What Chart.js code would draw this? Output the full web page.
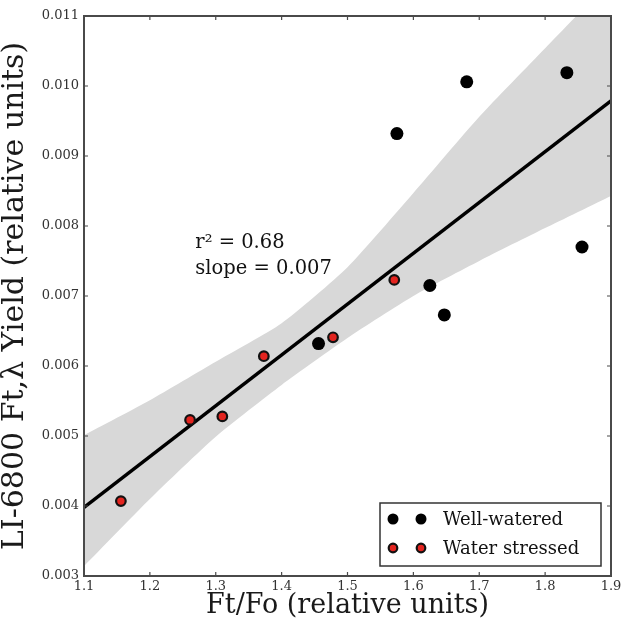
<!DOCTYPE html>
<html>
<head>
<meta charset="utf-8">
<script src="https://cdn.jsdelivr.net/npm/chart.js@4/dist/chart.umd.min.js"></script>
<style>
  html, body { margin: 0; padding: 0; background: #fff; }
  #wrap { width: 622px; height: 621px; position: relative; }
</style>
</head>
<body>
<div id="wrap"><canvas id="chart"></canvas></div>
<script>
// Axis ticks
const xTickValues = [1.1, 1.2, 1.3, 1.4, 1.5, 1.6, 1.7, 1.8, 1.9];
const yTickValues = [0.003, 0.004, 0.005, 0.006, 0.007, 0.008, 0.009, 0.010, 0.011];

// Well-watered plants
const wellWateredX = [1.456, 1.575, 1.625, 1.647, 1.681, 1.833, 1.856];
const wellWateredY = [0.00632, 0.00932, 0.00715, 0.00673, 0.01006, 0.01019, 0.00770];

// Water-stressed plants
const stressedX = [1.156, 1.261, 1.310, 1.373, 1.478, 1.571];
const stressedY = [0.00407, 0.00523, 0.00528, 0.00614, 0.00641, 0.00723];

// 95% confidence band around the fit
const bandX     = [1.1, 1.2, 1.3, 1.4, 1.5, 1.6, 1.7, 1.8, 1.9];
const bandLower = [0.00314, 0.00410, 0.00499, 0.00573, 0.00640, 0.00700, 0.00750, 0.00797, 0.00843];
const bandUpper = [0.00501, 0.00551, 0.00606, 0.00661, 0.00741, 0.00847, 0.00956, 0.01054, 0.01151];

const FONT = "'DejaVu Serif', serif";

// Ordinary least squares over all plants
const allX = wellWateredX.concat(stressedX);
const allY = wellWateredY.concat(stressedY);
const n = allX.length;
const mx = allX.reduce((a, b) => a + b, 0) / n;
const my = allY.reduce((a, b) => a + b, 0) / n;
let sxy = 0, sxx = 0, syy = 0;
for (let i = 0; i < n; i++) {
  sxy += (allX[i] - mx) * (allY[i] - my);
  sxx += (allX[i] - mx) ** 2;
  syy += (allY[i] - my) ** 2;
}
const slope = sxy / sxx;
const intercept = my - slope * mx;
const r2 = (sxy * sxy) / (sxx * syy);
const xMin = xTickValues[0], xMax = xTickValues[xTickValues.length - 1];
const fitLine = [xMin, xMax].map(x => ({ x, y: intercept + slope * x }));

const pts = (xs, ys) => xs.map((x, i) => ({ x, y: ys[i] }));

// Frame, inward tick marks, fit statistics and legend box
const decorations = {
  id: 'decorations',
  afterDatasetsDraw(chart) {
    const { ctx, chartArea: a, scales: { x, y } } = chart;
    ctx.save();
    ctx.strokeStyle = '#4a4a4a';
    ctx.lineWidth = 1.2;
    ctx.beginPath();
    x.ticks.forEach(t => {
      const px = x.getPixelForValue(t.value);
      ctx.moveTo(px, a.bottom); ctx.lineTo(px, a.bottom - 4);
      ctx.moveTo(px, a.top); ctx.lineTo(px, a.top + 4);
    });
    y.ticks.forEach(t => {
      const py = y.getPixelForValue(t.value);
      ctx.moveTo(a.left, py); ctx.lineTo(a.left + 4, py);
      ctx.moveTo(a.right, py); ctx.lineTo(a.right - 4, py);
    });
    ctx.stroke();
    ctx.lineWidth = 2;
    ctx.strokeRect(a.left, a.top, a.right - a.left, a.bottom - a.top);

    // fit statistics
    ctx.fillStyle = '#111';
    ctx.font = '19.5px ' + FONT;
    ctx.textAlign = 'left';
    ctx.textBaseline = 'middle';
    const tx = x.getPixelForValue(1.269);
    ctx.fillText('r\u00B2 = ' + r2.toFixed(2), tx, y.getPixelForValue(0.00776));
    ctx.fillText('slope = ' + slope.toFixed(3), tx, y.getPixelForValue(0.00739));

    // legend
    const bw = 221, bh = 63;
    const bx = a.right - 231, by = a.bottom - 73;
    ctx.fillStyle = '#fff';
    ctx.fillRect(bx, by, bw, bh);
    ctx.strokeStyle = '#333';
    ctx.lineWidth = 1.5;
    ctx.strokeRect(bx, by, bw, bh);
    const entries = chart.data.datasets.filter(d => d.legendEntry);
    entries.forEach((d, i) => {
      const ry = by + 16 + i * 29;
      [bx + 13, bx + 41].forEach(mxp => {
        ctx.beginPath();
        ctx.arc(mxp, ry, d.legendRadius, 0, Math.PI * 2);
        ctx.fillStyle = d.backgroundColor;
        ctx.fill();
        if (d.borderWidth) {
          ctx.lineWidth = d.borderWidth;
          ctx.strokeStyle = d.borderColor;
          ctx.stroke();
        }
      });
      ctx.fillStyle = '#111';
      ctx.font = '18px ' + FONT;
      ctx.textBaseline = 'middle';
      ctx.fillText(d.label, bx + 63, ry + 1);
    });
    ctx.restore();
  }
};

new Chart(document.getElementById('chart'), {
  type: 'scatter',
  data: {
    datasets: [
      {
        label: 'Well-watered',
        data: pts(wellWateredX, wellWateredY),
        backgroundColor: '#000',
        borderColor: '#000',
        borderWidth: 0,
        pointRadius: 6.5,
        legendEntry: true,
        legendRadius: 5.5,
        order: 1
      },
      {
        label: 'Water stressed',
        data: pts(stressedX, stressedY),
        backgroundColor: '#e3241f',
        borderColor: '#111',
        borderWidth: 2.2,
        pointRadius: 4.8,
        legendEntry: true,
        legendRadius: 4.3,
        order: 0
      },
      {
        type: 'line',
        label: 'fit',
        data: fitLine,
        borderColor: '#000',
        borderWidth: 3.6,
        pointRadius: 0,
        fill: false,
        order: 2
      },
      {
        type: 'line',
        label: 'lower',
        data: pts(bandX, bandLower),
        borderWidth: 0,
        borderColor: 'rgba(0,0,0,0)',
        pointRadius: 0,
        tension: 0.2,
        fill: false,
        order: 4
      },
      {
        type: 'line',
        label: 'upper',
        data: pts(bandX, bandUpper),
        borderWidth: 0,
        borderColor: 'rgba(0,0,0,0)',
        backgroundColor: '#d8d8d8',
        pointRadius: 0,
        tension: 0.2,
        fill: '-1',
        order: 3
      }
    ]
  },
  options: {
    responsive: true,
    maintainAspectRatio: false,
    animation: false,
    layout: { padding: { top: 16, right: 11, left: 0, bottom: 0 } },
    plugins: { legend: { display: false }, tooltip: { enabled: false } },
    scales: {
      x: {
        type: 'linear',
        min: xMin,
        max: xMax,
        afterBuildTicks: s => { s.ticks = xTickValues.map(v => ({ value: v })); },
        afterFit: s => { s.height = 45; s.paddingLeft = 0; s.paddingRight = 0; },
        grid: { display: false, drawTicks: false },
        border: { display: false },
        ticks: {
          callback: v => Number(v).toFixed(1),
          font: { family: FONT, size: 13 },
          color: '#333',
          padding: 3,
          maxRotation: 0,
          autoSkip: false
        },
        title: {
          display: true,
          text: 'Ft/Fo (relative units)',
          font: { family: FONT, size: 27 },
          color: '#1a1a1a',
          padding: { top: 0, bottom: -1 }
        }
      },
      y: {
        type: 'linear',
        min: yTickValues[0],
        max: yTickValues[yTickValues.length - 1],
        afterBuildTicks: s => { s.ticks = yTickValues.map(v => ({ value: v })); },
        afterFit: s => { s.width = 84; s.paddingTop = 0; s.paddingBottom = 0; },
        grid: { display: false, drawTicks: false },
        border: { display: false },
        ticks: {
          callback: v => Number(v).toFixed(3),
          font: { family: FONT, size: 13 },
          color: '#333',
          padding: 5,
          autoSkip: false
        },
        title: {
          display: true,
          text: 'LI-6800 Ft,\u03BB Yield (relative units)',
          font: { family: FONT, size: 30 },
          color: '#1a1a1a',
          padding: { top: -3, bottom: 0 }
        }
      }
    }
  },
  plugins: [decorations]
});
</script>
</body>
</html>
